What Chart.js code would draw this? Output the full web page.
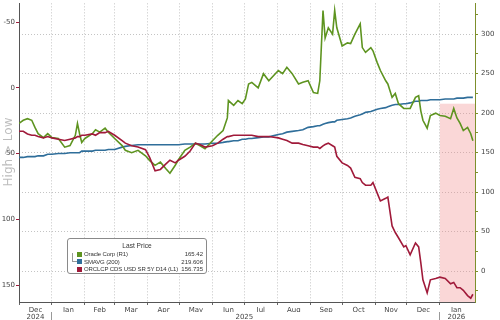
<!DOCTYPE html>
<html>
<head>
<meta charset="utf-8">
<script src="https://cdn.jsdelivr.net/npm/chart.js@4.4.1/dist/chart.umd.min.js"></script>
<style>
html,body{margin:0;padding:0;background:#fff;}
#wrap{position:relative;width:500px;height:320px;}
#lg{position:absolute;left:67px;top:238px;width:138px;height:34px;border:1px solid #8a8a8a;border-radius:3px;background:#fff;
  font:6px 'Liberation Sans',sans-serif;color:#333;}
#lg .hd{position:absolute;left:0;right:0;top:3px;text-align:center;font-size:6.6px;}
#lg .row{position:absolute;left:9px;right:3px;height:8px;line-height:8px;white-space:nowrap;letter-spacing:-0.12px;}
#lg .sq{display:inline-block;width:5px;height:5px;margin-right:2px;vertical-align:-0.5px;}
#lg .v{position:absolute;right:0;top:0;letter-spacing:0;}
#lg .tree{position:absolute;left:4px;top:14px;width:4px;height:8px;border-left:1px solid #999;border-bottom:1px solid #999;}
</style>
</head>
<body>
<div id="wrap">
<canvas id="c" width="500" height="320"></canvas>
<div id="lg"></div>
</div>
<script>
'use strict';

/* days since 1 Dec 2024 */
var dayIndex=[0,4,8,12,15,18,23,27,31,37,
  43,48,53,55,57,59,62,69,72,76,
  81,84,90,97,100,106,112,119,123,128,
  133,138,142,147,150,156,161,166,170,175,
  182,187,192,196,197,202,206,210,213,216,
  219,225,230,235,244,248,252,257,263,267,
  272,277,281,283,286,288,291,295,297,299,
  304,309,312,316,321,323,326,331,333,337,
  340,345,347,351,354,357,362,364,368,373,
  376,378,380,384,387,392,396,401,406,409,
  412,415,418,422,425,427];

var oracle=[187,191,193,191,182,174,169,174,169,168,
  157,159,172,187,174,163,168,174,179,176,
  181,176,168,159,153,150,153,146,140,134,
  138,130,124,134,141,153,157,162,159,155,
  165,172,178,194,216,210,216,212,218,237,
  239,232,250,241,254,250,258,250,237,239,
  241,226,225,241,330,295,308,300,330,308,
  285,289,288,300,313,283,277,283,279,264,
  254,241,237,220,225,212,206,206,206,220,
  222,203,191,181,197,200,197,196,193,206,
  194,187,178,182,174,165];

var smavg=[144,144,145,145,145,146,146,148,148,149,
  149,150,150,150,150,152,152,152,153,153,
  153,154,154,157,158,159,160,160,160,160,
  160,160,160,160,160,161,161,161,161,161,
  162,162,163,164,164,165,165,167,167,168,
  168,169,170,170,173,174,176,177,178,179,
  182,183,184,184,186,187,188,189,189,191,
  192,193,194,196,198,199,201,202,203,205,
  206,207,208,210,211,211,212,212,213,215,
  215,216,216,216,217,217,217,218,218,218,
  219,219,219,220,220,220];

var cds=[33,33,35,36,36,37,38,37,38,39,
  40,39,38,37,37,36,36,35,36,34,
  34,33,36,40,42,44,45,47,53,63,
  62,58,55,57,55,52,48,42,43,45,
  44,42,39,37,37,36,36,36,36,36,
  36,37,37,37,38,39,40,42,42,43,
  44,45,45,46,44,43,42,44,45,52,
  57,59,61,68,69,72,74,74,72,80,
  86,84,83,105,110,114,121,120,127,118,
  121,133,146,156,146,145,144,145,149,148,
  152,152,154,158,160,157];

var monthStarts=[0,31,62,90,121,151,182,212,243,274,304,335,365,396,427];
var monthLabels=['Dec','Jan','Feb','Mar','Apr','May','Jun','Jul','Aug','Sep','Oct','Nov','Dec','Jan'];
var yearTicks=[15.5,31,212,396,411.5];
var yearLabels=['2024','','2025','','2026'];
var leftTicks=[-50,0,50,100,150];
var rightTicks=[-25,0,25,50,75,100,125,150,175,200,225,250,275,300,325];

var seriesNames=['Oracle Corp (R1)','SMAVG (200)','ORCLCP CDS USD SR 5Y D14 (L1)'];
var lastPrices=['165.42','219.606','156.735'];
var seriesColors=['#5e9420','#2f6e9a','#a01a3a'];

var X_MIN=0,X_MAX=429;
var HILITE_FROM=396,HILITE_TOP=212;

function pts(vals){return vals.map(function(v,i){return{x:dayIndex[i],y:v};});}

var FONT="'DejaVu Sans', sans-serif";
var GRID='#c4c4c4';
var yFont={family:FONT,size:7,lineHeight:0.1};

var xTicks=[];
for(var i=0;i<monthLabels.length;i++){
  xTicks.push({value:monthStarts[i],lbl:''});
  xTicks.push({value:(monthStarts[i]+monthStarts[i+1])/2,lbl:monthLabels[i]});
}

var extras={
  id:'extras',
  beforeDatasetsDraw:function(chart){
    var c=chart.ctx,a=chart.chartArea;
    var x1=chart.scales.x.getPixelForValue(HILITE_FROM);
    var y1=chart.scales.yR.getPixelForValue(HILITE_TOP);
    c.save();
    c.fillStyle='rgba(240,140,140,0.35)';
    c.fillRect(x1,y1,a.right-x1,a.bottom-y1);
    c.restore();
  },
  afterDraw:function(chart){
    var c=chart.ctx;
    c.save();
    c.translate(9,152);
    c.rotate(-Math.PI/2);
    c.fillStyle='#bdbdbd';
    c.font='12px '+FONT;
    c.textAlign='center';c.textBaseline='middle';
    c.fillText('High > Low',0,0);
    c.restore();
  }
};

var chart=new Chart(document.getElementById('c'),{
  type:'line',
  data:{datasets:[
    {label:seriesNames[0],data:pts(oracle),yAxisID:'yR',borderColor:seriesColors[0],borderWidth:1.6,order:2},
    {label:seriesNames[1],data:pts(smavg),yAxisID:'yR',borderColor:seriesColors[1],borderWidth:1.6,order:3},
    {label:seriesNames[2],data:pts(cds),yAxisID:'yL',borderColor:seriesColors[2],borderWidth:1.6,order:1}
  ]},
  options:{
    responsive:false,animation:false,
    layout:{padding:0},
    elements:{point:{radius:0},line:{tension:0}},
    plugins:{legend:{display:false},tooltip:{enabled:false}},
    scales:{
      x:{type:'linear',position:'bottom',min:X_MIN,max:X_MAX,
        afterBuildTicks:function(ax){ax.ticks=xTicks.map(function(t){return{value:t.value};});},
        afterFit:function(ax){ax.height=10;},
        ticks:{autoSkip:false,maxRotation:0,padding:1,color:'#444',font:{family:FONT,size:7},
          callback:function(v,i){return xTicks[i]?xTicks[i].lbl:'';}},
        grid:{color:function(c){return c.index%2===0?GRID:'rgba(0,0,0,0)';},
          tickColor:function(c){return c.index%2===0?'#666':'rgba(0,0,0,0)';},tickLength:3,lineWidth:1},
        border:{color:'#555',dash:[1,2]}
      },
      x2:{type:'linear',position:'bottom',min:X_MIN,max:X_MAX,
        afterBuildTicks:function(ax){ax.ticks=yearTicks.map(function(v){return{value:v};});},
        afterFit:function(ax){ax.height=8;},
        ticks:{autoSkip:false,maxRotation:0,padding:-9,color:'#444',font:{family:FONT,size:7},
          callback:function(v,i){return yearLabels[i];}},
        grid:{drawOnChartArea:false,tickLength:10,
          tickColor:function(c){return yearLabels[c.index]===''?'#999':'rgba(0,0,0,0)';}},
        border:{display:false}
      },
      yL:{type:'linear',position:'left',reverse:true,min:-64.4,max:162.9,
        afterBuildTicks:function(ax){ax.ticks=leftTicks.map(function(v){return{value:v};});},
        afterFit:function(ax){ax.width=19;},
        ticks:{padding:1,color:'#444',font:yFont},
        grid:{drawOnChartArea:false,tickLength:3,tickColor:seriesColors[2]},
        border:{color:'#555'}
      },
      yR:{type:'linear',position:'right',min:-39,max:339,
        afterBuildTicks:function(ax){ax.ticks=rightTicks.map(function(v){return{value:v};});},
        afterFit:function(ax){ax.width=25;},
        ticks:{padding:3,color:'#444',font:yFont,
          callback:function(v){return v%50===0?v:'';}},
        grid:{color:function(c){return c.tick&&c.tick.value%50===0?GRID:'rgba(0,0,0,0)';},
          tickColor:'#7d8f2c',tickLength:3},
        border:{color:'#7d8f2c',dash:[1,2]}
      }
    }
  },
  plugins:[extras]
});

var lg=document.getElementById('lg');
var html='<div class="hd">Last Price</div><div class="tree"></div>';
for(var k=0;k<seriesNames.length;k++){
  html+='<div class="row" style="top:'+(11+k*7.5)+'px"><span class="sq" style="background:'+seriesColors[k]+'"></span>'+
    seriesNames[k].replace(/ /g,'&nbsp;')+'<span class="v">'+lastPrices[k]+'</span></div>';
}
lg.innerHTML=html;
</script>
</body>
</html>
